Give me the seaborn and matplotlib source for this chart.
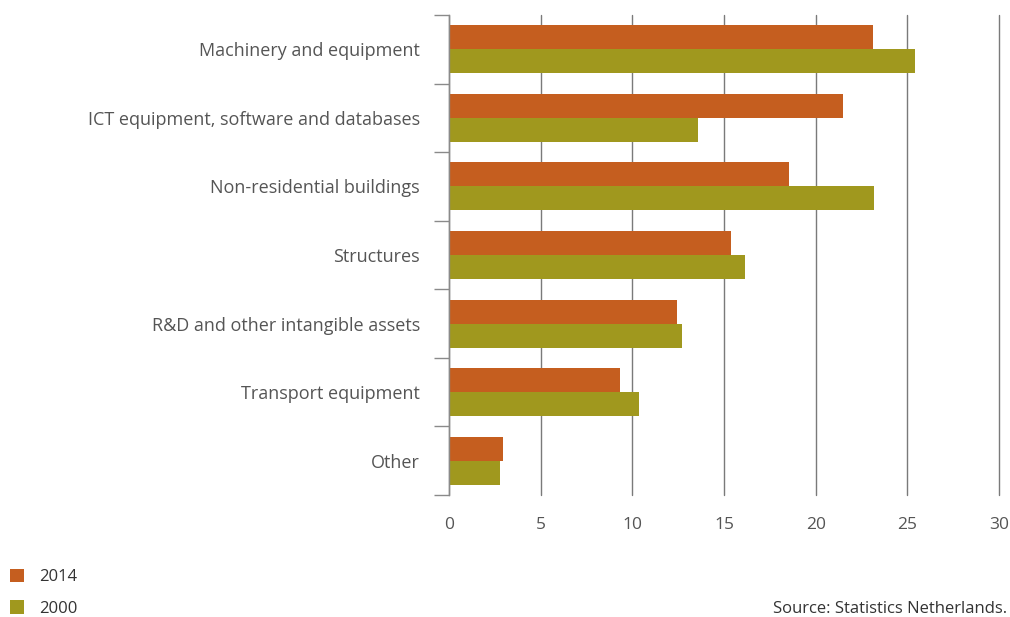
import matplotlib
matplotlib.use("Agg")
import matplotlib.pyplot as plt
import numpy as np
import pandas as pd
import seaborn as sns
from matplotlib.patches import Patch

categories = [
    "Machinery and equipment",
    "ICT equipment, software and databases",
    "Non-residential buildings",
    "Structures",
    "R&D and other intangible assets",
    "Transport equipment",
    "Other",
]
values_2014 = [23.1, 21.5, 18.55, 15.4, 12.45, 9.35, 2.95]
values_2000 = [25.4, 13.6, 23.2, 16.15, 12.7, 10.35, 2.8]
years = ["2014", "2000"]
x_ticks = [0, 5, 10, 15, 20, 25, 30]
source_text = "Source: Statistics Netherlands."

colors = {"2014": "#C55E1F", "2000": "#A0981E"}
text_color = "#555555"
grid_color = "#7a7a7a"

df = pd.DataFrame({
    "category": categories * 2,
    "value": values_2014 + values_2000,
    "year": ["2014"] * len(categories) + ["2000"] * len(categories),
})

sns.set_theme(style="white")
plt.rcParams["font.family"] = ["Open Sans", "DejaVu Sans"]

fig = plt.figure(figsize=(10.10, 6.17), dpi=100)
ax = fig.add_axes([449 / 1010, 1 - 495 / 617, 550 / 1010, 480 / 617])

sns.barplot(
    data=df, y="category", x="value", hue="year", hue_order=years,
    palette=colors, orient="h", width=0.7, ax=ax, legend=False,
    saturation=1, linewidth=0,
)

ax.set_xlim(0, 30)
ax.set_ylim(len(categories) - 0.5, -0.5)
ax.set_xticks(x_ticks)
ax.set_xticklabels([str(t) for t in x_ticks])
ax.set_xlabel("")
ax.set_ylabel("")

# vertical grid lines behind bars
ax.set_axisbelow(True)
ax.xaxis.grid(True, color=grid_color, linewidth=1.0)
for gl in ax.get_xgridlines():
    gl.set_clip_on(False)
ax.yaxis.grid(False)

for side in ["top", "right", "bottom"]:
    ax.spines[side].set_visible(False)
ax.spines["left"].set_color("#8a8a8a")
ax.spines["left"].set_linewidth(1.0)

ax.tick_params(axis="x", length=0, pad=15.5, labelsize=12.5, labelcolor=text_color)
ax.tick_params(axis="y", which="major", length=0, pad=21, labelsize=13, labelcolor=text_color)

# category boundary ticks on the left axis
ax.set_yticks(np.arange(-0.5, len(categories), 1.0), minor=True)
ax.tick_params(axis="y", which="minor", length=11, width=1.0, color="#8a8a8a", left=True)

handles = [Patch(facecolor=colors[y], edgecolor="none", label=y) for y in years]
fig.legend(
    handles=handles, loc="lower left", bbox_to_anchor=(0.0, -0.016),
    frameon=False, fontsize=12, labelcolor="#333333",
    handlelength=0.85, handleheight=0.85, handletextpad=0.9,
    labelspacing=0.9, borderaxespad=0.2,
)

fig.text(1007 / 1010, 1 - 609 / 617, source_text, ha="right", va="center",
         fontsize=12, color="#333333")

fig.savefig("out.png", dpi=100)
